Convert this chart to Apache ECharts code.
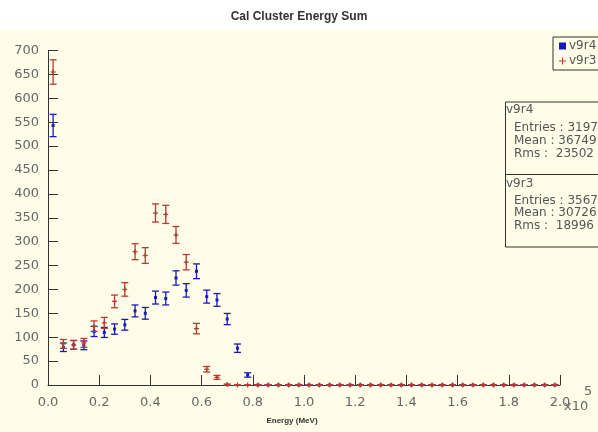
<!DOCTYPE html>
<html>
<head>
<meta charset="utf-8">
<script src="https://cdn.jsdelivr.net/npm/echarts@6/dist/echarts.min.js"></script>
<style>
  html, body { margin: 0; padding: 0; background: #fff; }
  #chart { width: 598px; height: 432px; }
</style>
</head>
<body>
<div id="chart"></div>
<script>
  // bin centres (x10^5 MeV), bin width 0.04
  const binCenters = []
  for (let k = 0; k < 50; k++) binCenters.push(+(0.02 + 0.04 * k).toFixed(2))

  // v9r4 counts per bin (blue)
  const v9r4 = [543, 79, 84, 83, 112, 110, 117, 126, 155, 150, 183, 181, 224, 198, 238, 185, 178, 138, 77, 21,
    0, 0, 0, 0, 0, 0, 0, 0, 0, 0, 0, 0, 0, 0, 0, 0, 0, 0, 0, 0, 0, 0, 0, 0, 0, 0, 0, 0, 0, 0]
  // v9r3 counts per bin (red)
  const v9r3 = [655, 86, 84, 88, 123, 130, 175, 200, 279, 271, 360, 357, 314, 257, 118, 33, 16, 1, 0, 0,
    0, 0, 0, 0, 0, 0, 0, 0, 0, 0, 0, 0, 0, 0, 0, 0, 0, 0, 0, 0, 0, 0, 0, 0, 0, 0, 0, 0, 0, 0]

  const xTicks = ['0.0', '0.2', '0.4', '0.6', '0.8', '1.0', '1.2', '1.4', '1.6', '1.8', '2.0']
  const statsV9r4 = ['v9r4', 'Entries : 3197', 'Mean : 36749', 'Rms :  23502']
  const statsV9r3 = ['v9r3', 'Entries : 3567', 'Mean : 30726', 'Rms :  18996']

  const blue = '#1a1ab4'
  const red = '#b43c32'
  const cream = '#fffde8'

  // histogram points with poisson error bars
  const toData = (counts) => counts.map((v, i) => [binCenters[i], v, Math.sqrt(v)])

  const errorBar = (marker) => (params, api) => {
    const x = api.value(0)
    const y = api.value(1)
    const e = api.value(2)
    const c = api.coord([x, y])
    const hi = api.coord([x, y + e])
    const lo = api.coord([x, y - e])
    const color = api.visual('color')
    const st = { stroke: color, lineWidth: 1.3 }
    const children = [
      { type: 'line', shape: { x1: c[0], y1: hi[1], x2: c[0], y2: lo[1] }, style: st },
      { type: 'line', shape: { x1: c[0] - 3.5, y1: hi[1], x2: c[0] + 3.5, y2: hi[1] }, style: st },
      { type: 'line', shape: { x1: c[0] - 3.5, y1: lo[1], x2: c[0] + 3.5, y2: lo[1] }, style: st },
    ]
    if (marker === 'square') {
      children.push({ type: 'rect', shape: { x: c[0] - 1.5, y: c[1] - 1.5, width: 3, height: 3 }, style: { fill: color } })
    } else {
      children.push({ type: 'line', shape: { x1: c[0] - 2.5, y1: c[1], x2: c[0] + 2.5, y2: c[1] }, style: st })
      children.push({ type: 'line', shape: { x1: c[0], y1: c[1] - 2.5, x2: c[0], y2: c[1] + 2.5 }, style: st })
    }
    return { type: 'group', children }
  }

  const font = 'DejaVu Sans'
  // stats box lines, centre y of each line given
  const statLines = (lines, ys) => lines.map((t, i) => ({
    type: 'text',
    x: i === 0 ? 506 : 514,
    y: ys[i],
    style: { text: t, font: '12px "DejaVu Sans"', fill: '#555', textVerticalAlign: 'middle' },
    z: 20,
  }))

  const tickStyle = { color: '#333', width: 1 }

  const options = {
    backgroundColor: cream,
    animation: false,
    title: {
      text: 'Cal Cluster Energy Sum',
      left: 'center',
      top: 6,
      textStyle: { fontFamily: 'Liberation Sans', fontWeight: 'bold', fontSize: 12, color: '#333' },
    },
    legend: {
      orient: 'vertical',
      left: 553,
      top: 37,
      itemGap: 3,
      itemWidth: 7,
      itemHeight: 7,
      padding: [3, 4, 3, 6],
      borderColor: '#333',
      borderWidth: 1,
      backgroundColor: cream,
      textStyle: { fontFamily: font, fontSize: 12, color: '#555', padding: [0, 0, 0, -2] },
      data: [
        { name: 'v9r4', icon: 'rect' },
        { name: 'v9r3', icon: 'path://M4.3,0H5.7V4.3H10V5.7H5.7V10H4.3V5.7H0V4.3H4.3Z' },
      ],
    },
    grid: { left: 48, right: 38, top: 50.5, bottom: 47, containLabel: false },
    xAxis: [
      {
        type: 'value',
        min: 0,
        max: 2,
        interval: 0.2,
        name: 'Energy (MeV)',
        nameLocation: 'middle',
        nameGap: 32,
        nameTextStyle: {
          fontFamily: 'Liberation Sans', fontWeight: 'bold', fontSize: 8, color: '#333',
          padding: [0, 24, 0, 0],
        },
        axisLine: { onZero: false, lineStyle: { color: '#333', width: 1 } },
        axisTick: { show: false },
        axisLabel: {
          margin: 11,
          fontFamily: font,
          fontSize: 13,
          color: '#666',
          formatter: (v) => xTicks[Math.round(v / 0.2)],
        },
        splitLine: { show: false },
      },
      {
        // ticks crossing the axis line
        type: 'value',
        min: 0,
        max: 2,
        interval: 0.2,
        position: 'bottom',
        offset: 5,
        axisLine: { show: false },
        axisTick: { show: true, inside: true, length: 10, lineStyle: tickStyle },
        axisLabel: { show: false },
        splitLine: { show: false },
      },
    ],
    yAxis: [
      {
        type: 'value',
        min: 0,
        max: 700,
        interval: 50,
        axisLine: { show: true, onZero: false, lineStyle: { color: '#333', width: 1 } },
        axisTick: { show: false },
        axisLabel: { margin: 9, fontFamily: font, fontSize: 13, color: '#666' },
        splitLine: { show: false },
      },
      {
        // ticks crossing the axis line
        type: 'value',
        min: 0,
        max: 700,
        interval: 50,
        position: 'left',
        offset: 5,
        axisLine: { show: false },
        axisTick: { show: true, inside: true, length: 10, lineStyle: tickStyle },
        axisLabel: { show: false },
        splitLine: { show: false },
      },
    ],
    graphic: [
      { type: 'rect', left: 0, top: 0, shape: { width: 598, height: 30 }, style: { fill: '#fff' }, z: -1 },
      {
        type: 'rect', left: 505, top: 101.5,
        shape: { width: 110, height: 145 },
        style: { fill: cream, stroke: '#333', lineWidth: 1 }, z: 19,
      },
      { type: 'line', shape: { x1: 505, y1: 174.5, x2: 598, y2: 174.5 }, style: { stroke: '#333', lineWidth: 1 }, z: 20 },
      ...statLines(statsV9r4, [110, 128, 140.7, 153.5]),
      ...statLines(statsV9r3, [184, 200.5, 213, 226]),
      { type: 'text', left: 564, top: 400, style: { text: 'x10', font: '13px "DejaVu Sans"', fill: '#666' }, z: 20 },
      { type: 'text', left: 584, top: 385, style: { text: '5', font: '13px "DejaVu Sans"', fill: '#666' }, z: 20 },
    ],
    series: [
      {
        name: 'v9r4',
        type: 'custom',
        renderItem: errorBar('square'),
        itemStyle: { color: blue },
        encode: { x: 0, y: 1 },
        data: toData(v9r4),
        z: 3,
      },
      {
        name: 'v9r3',
        type: 'custom',
        renderItem: errorBar('plus'),
        itemStyle: { color: red },
        encode: { x: 0, y: 1 },
        data: toData(v9r3),
        z: 4,
      },
    ],
  }

  const chart = echarts.init(document.getElementById('chart'))
  chart.setOption(options)
  window.addEventListener('resize', function () {
    chart && chart.resize()
  })
</script>
</body>
</html>
